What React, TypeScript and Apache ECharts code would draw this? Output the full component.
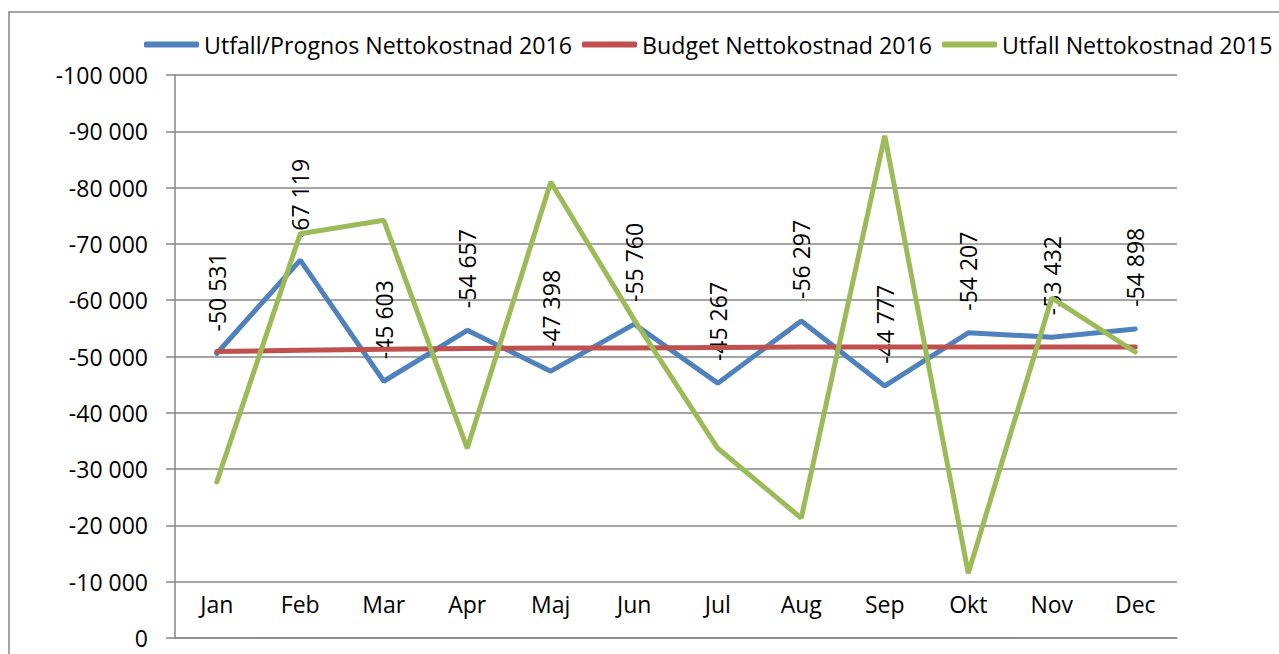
import React, { useEffect, useRef } from "react";
import * as echarts from "echarts";

const months = ["Jan", "Feb", "Mar", "Apr", "Maj", "Jun", "Jul", "Aug", "Sep", "Okt", "Nov", "Dec"];
const utfallPrognos2016 = [-50531, -67119, -45603, -54657, -47398, -55760, -45267, -56297, -44777, -54207, -53432, -54898];
const budget2016 = [-50900, -51100, -51300, -51400, -51500, -51500, -51600, -51700, -51700, -51700, -51700, -51700];
const utfall2015 = [-27700, -71800, -74200, -33700, -81000, -56500, -33700, -21300, -89200, -11500, -60400, -50800];
const seriesNames = ["Utfall/Prognos Nettokostnad 2016", "Budget Nettokostnad 2016", "Utfall Nettokostnad 2015"];

const FONT = "'Open Sans', 'Noto Sans', sans-serif";

function fmt(v: number): string {
  const neg = v < 0;
  const s = String(Math.abs(Math.round(v)));
  const parts: string[] = [];
  for (let i = s.length; i > 0; i -= 3) parts.unshift(s.slice(Math.max(0, i - 3), i));
  return (neg ? "-" : "") + parts.join(" ");
}

export default function App() {
  const ref = useRef<HTMLDivElement>(null);
  useEffect(() => {
    if (!ref.current) return;
    const chart = echarts.init(ref.current, undefined, { renderer: "svg" });
    const gray = "#868686";
    chart.setOption({
      animation: false,
      backgroundColor: "#ffffff",
      textStyle: { fontFamily: FONT },
      graphic: [
        {
          type: "rect",
          shape: { x: 9, y: 12, width: 1400, height: 800 },
          style: { fill: "none", stroke: gray, lineWidth: 1.5 },
          silent: true,
          z: -10,
        },
      ],
      legend: {
        left: 139,
        top: 28,
        width: 1500,
        itemWidth: 55,
        itemHeight: 6,
        itemGap: 10,
        icon: "roundRect",
        textStyle: { fontFamily: FONT, fontSize: 23.2, color: "#000" },
        data: seriesNames,
      },
      grid: { left: 175, right: 102, top: 75, bottom: 16, containLabel: false },
      xAxis: {
        type: "category",
        data: months,
        boundaryGap: true,
        axisLine: { lineStyle: { color: gray, width: 1.5 } },
        axisTick: { inside: true, length: 8, lineStyle: { color: gray, width: 1.5 } },
        axisLabel: { inside: true, margin: 23, fontFamily: FONT, fontSize: 23, color: "#000" },
      },
      yAxis: {
        type: "value",
        min: -100000,
        max: 0,
        interval: 10000,
        inverse: true,
        axisLine: { show: true, lineStyle: { color: gray, width: 1.5 } },
        axisTick: { show: true, length: 9, lineStyle: { color: gray, width: 1.5 } },
        splitLine: { lineStyle: { color: gray, width: 1.5 } },
        axisLabel: { margin: 27, fontFamily: FONT, fontSize: 23, color: "#000", formatter: (v: number) => fmt(v) },
      },
      series: [
        {
          name: seriesNames[0],
          type: "line",
          data: utfallPrognos2016,
          showSymbol: true,
          symbol: "circle",
          symbolSize: 0.1,
          color: "#4F81BD",
          itemStyle: { color: "#4F81BD" },
          lineStyle: { width: 5, color: "#4F81BD", cap: "round" },
          label: {
            show: true,
            position: "top",
            rotate: 90,
            align: "left",
            verticalAlign: "middle",
            distance: 22,
            fontFamily: FONT,
            fontSize: 23,
            color: "#000",
            formatter: (p: any) => fmt(p.value),
          },
          labelLayout: { hideOverlap: false },
          z: 2,
        },
        {
          name: seriesNames[1],
          type: "line",
          data: budget2016,
          showSymbol: false,
          symbol: "none",
          color: "#C0504D",
          lineStyle: { width: 5, color: "#C0504D", cap: "round" },
          z: 3,
        },
        {
          name: seriesNames[2],
          type: "line",
          data: utfall2015,
          showSymbol: false,
          symbol: "none",
          color: "#9BBB59",
          lineStyle: { width: 5, color: "#9BBB59", cap: "round" },
          z: 4,
        },
      ],
    });
    return () => chart.dispose();
  }, []);
  return <div ref={ref} style={{ position: "fixed", left: 0, top: 0, width: 1279, height: 654 }} />;
}
